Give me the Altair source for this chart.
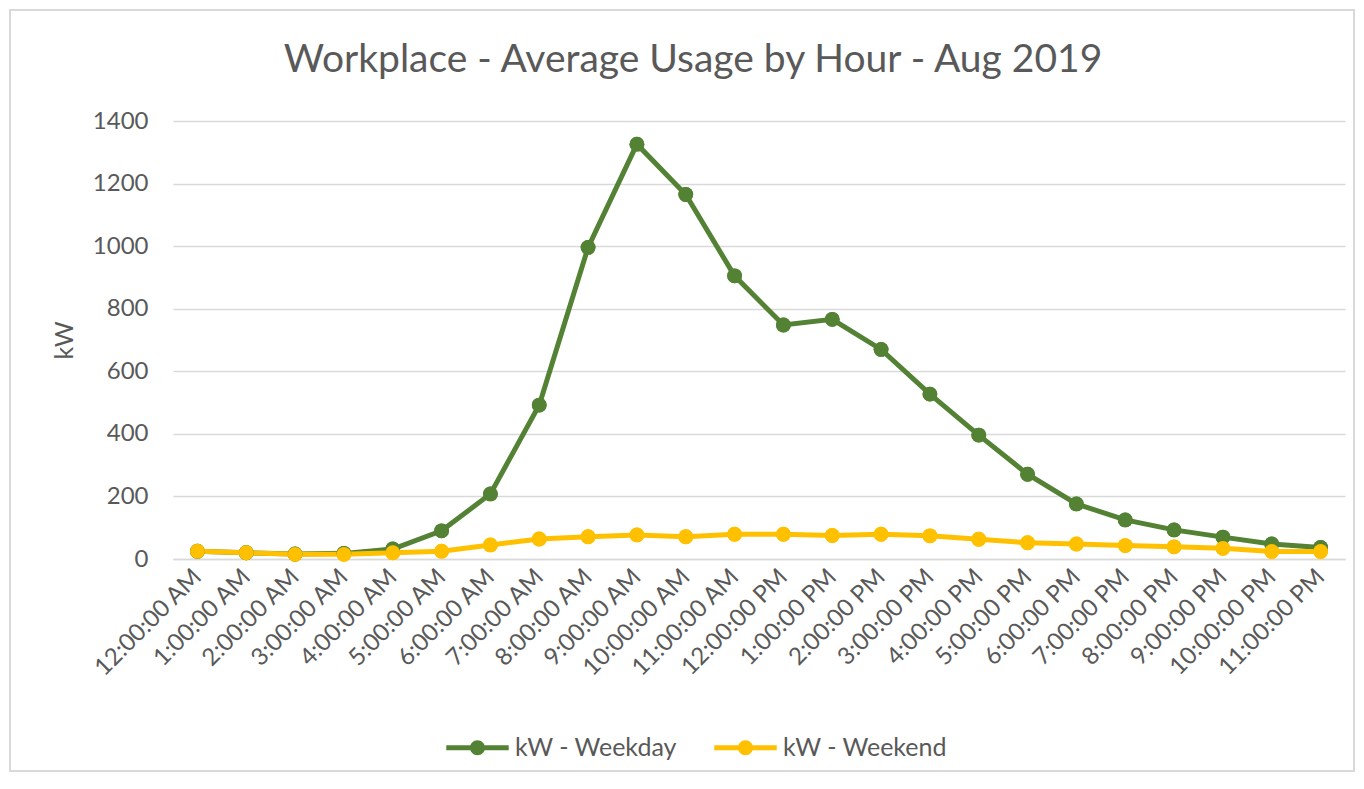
import altair as alt
import pandas as pd

hours = ["12:00:00 AM", "1:00:00 AM", "2:00:00 AM", "3:00:00 AM", "4:00:00 AM", "5:00:00 AM",
         "6:00:00 AM", "7:00:00 AM", "8:00:00 AM", "9:00:00 AM", "10:00:00 AM", "11:00:00 AM",
         "12:00:00 PM", "1:00:00 PM", "2:00:00 PM", "3:00:00 PM", "4:00:00 PM", "5:00:00 PM",
         "6:00:00 PM", "7:00:00 PM", "8:00:00 PM", "9:00:00 PM", "10:00:00 PM", "11:00:00 PM"]

weekday = [25, 20, 16, 18, 32, 90, 208, 492, 996, 1326, 1165, 905,
           748, 766, 670, 527, 396, 271, 176, 125, 93, 70, 48, 37]
weekend = [25, 20, 15, 15, 20, 25, 45, 64, 71, 77, 71, 79,
           79, 75, 79, 74, 63, 52, 48, 43, 39, 34, 24, 24]

series_names = ["kW - Weekday", "kW - Weekend"]
series_colors = ["#548235", "#FFC000"]

rows = []
for h, v in zip(hours, weekday):
    rows.append({"hour": h, "kW": v, "series": series_names[0]})
for h, v in zip(hours, weekend):
    rows.append({"hour": h, "kW": v, "series": series_names[1]})
df = pd.DataFrame(rows)

FONT = "Lato"
TXT = "#595959"

symbol_path = ("M-1,-0.08 L1,-0.08 L1,0.08 L-1,0.08 Z "
               "M-0.24,0 A0.24,0.24 0 1,1 0.24,0 A0.24,0.24 0 1,1 -0.24,0 Z")

color = alt.Color(
    "series:N",
    scale=alt.Scale(domain=series_names, range=series_colors),
    legend=alt.Legend(
        title=None,
        orient="none",
        legendX=273,
        legendY=595,
        direction="horizontal",
        symbolType=symbol_path,
        symbolSize=3900,
        symbolStrokeWidth=0,
        symbolOpacity=1,
        labelFont=FONT,
        labelFontSize=25,
        labelColor=TXT,
        labelOffset=6,
        labelLimit=400,
        columnPadding=36,
    ),
)

x = alt.X(
    "hour:N",
    sort=hours,
    scale=alt.Scale(type="point", padding=0.5),
    axis=alt.Axis(
        title=None,
        labelAngle=-45,
        labelAlign="right",
        labelBaseline="middle",
        labelFont=FONT,
        labelFontSize=24,
        labelColor=TXT,
        labelPadding=14,
        ticks=False,
        domain=True,
        domainColor="#D9D9D9",
        domainWidth=1.5,
        grid=False,
        labelOverlap=False,
    ),
)

y = alt.Y(
    "kW:Q",
    scale=alt.Scale(domain=[0, 1400], nice=False),
    axis=alt.Axis(
        title="kW",
        values=[0, 200, 400, 600, 800, 1000, 1200, 1400],
        format="d",
        titleFont=FONT,
        titleFontSize=25,
        titleFontWeight="normal",
        titleColor=TXT,
        titlePadding=15,
        labelFont=FONT,
        labelFontSize=24,
        labelColor=TXT,
        labelPadding=25,
        ticks=False,
        domain=False,
        grid=True,
        gridColor="#D9D9D9",
        gridWidth=1.5,
    ),
)

points = alt.Chart(df).mark_point(filled=True, size=220, opacity=1).encode(x=x, y=y, color=color)
lines = alt.Chart(df).mark_line(strokeWidth=5).encode(x=x, y=y, color=color)

border = alt.Chart(df).mark_rect(fill=None, stroke="#D9D9D9", strokeWidth=1.5, clip=False).encode(
    x=alt.value(-163), x2=alt.value(1181), y=alt.value(-111), y2=alt.value(650)
)

chart = alt.layer(border, points, lines, points).properties(
    width=1172,
    height=438,
    padding={"left": 165, "top": 113, "right": 11, "bottom": 222},
    autosize=alt.AutoSizeParams(type="none"),
    title=alt.TitleParams(
        "Workplace - Average Usage by Hour - Aug 2019",
        font=FONT,
        fontSize=39,
        fontWeight="normal",
        color=TXT,
        anchor="middle",
        frame="group",
        baseline="alphabetic",
        dx=-66,
        offset=-102,
    ),
).configure_view(stroke=None)

chart.save("out.html", embed_options={"renderer": "svg", "actions": False})
